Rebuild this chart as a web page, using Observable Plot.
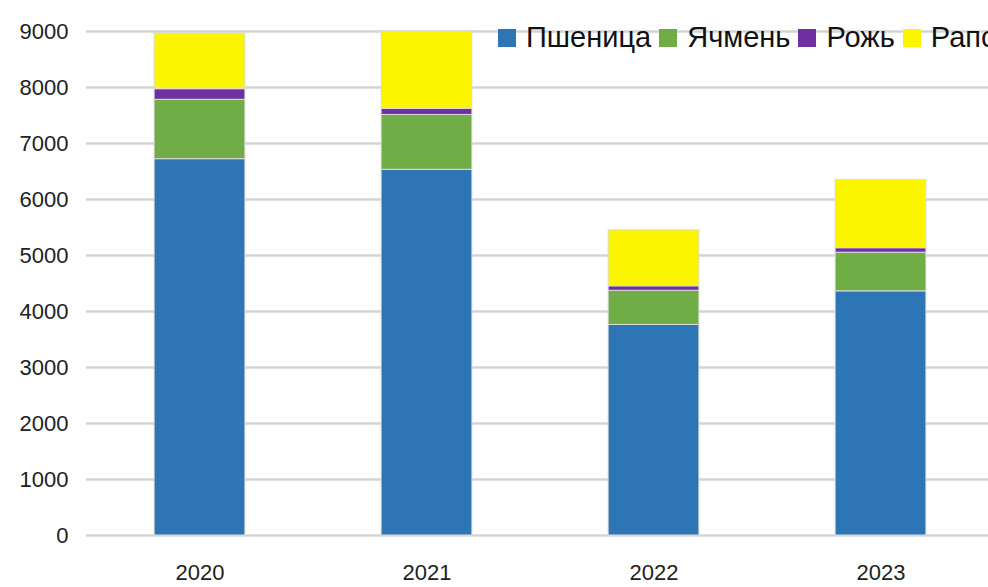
<!DOCTYPE html>
<html>
<head>
<meta charset="utf-8">
<script src="https://cdn.jsdelivr.net/npm/d3@7"></script>
<script src="https://cdn.jsdelivr.net/npm/@observablehq/plot@0.6"></script>
<style>
  html, body { margin: 0; padding: 0; background: #fff; overflow: hidden; width: 988px; height: 587px; }
  #wrap { position: relative; width: 988px; height: 587px; overflow: hidden; }
  #chart svg { max-width: none !important; }
  #legend { position: absolute; left: 498px; top: 21px; white-space: nowrap; font-family: "Liberation Sans", Arial, sans-serif; font-size: 29px; color: #111; display: flex; align-items: center; }
  #legend .item { display: inline-flex; align-items: center; margin-right: 8px; }
  #legend .sw { display: inline-block; width: 18px; height: 18px; margin-right: 10px; }
</style>
</head>
<body>
<div id="wrap">
  <div id="chart"></div>
  <div id="legend"></div>
</div>
<script>
const years = ["2020", "2021", "2022", "2023"];
const seriesNames = ["Пшеница", "Ячмень", "Рожь", "Рапс"];
const seriesColors = ["#2e75b6", "#70ad47", "#7030a0", "#fbf500"];
const wheat = [6720, 6530, 3760, 4360];
const barley = [1060, 980, 610, 690];
const rye = [190, 110, 80, 80];
const rapeseed = [1000, 1390, 1000, 1220];
const yTicks = [0, 1000, 2000, 3000, 4000, 5000, 6000, 7000, 8000, 9000];

const seriesValues = [wheat, barley, rye, rapeseed];
const data = [];
seriesNames.forEach((s, si) => {
  years.forEach((y, yi) => data.push({year: y, series: s, value: seriesValues[si][yi]}));
});

const chart = Plot.plot({
  width: 994,
  height: 587,
  marginLeft: 86,
  marginRight: 0,
  marginTop: 31,
  marginBottom: 52,
  style: {fontFamily: "'Liberation Sans', Arial, sans-serif", fontSize: "22px", color: "#222", background: "#fff"},
  x: {domain: years, paddingInner: 0.6, paddingOuter: 0.3, round: false, label: null, tickSize: 0, tickPadding: 29},
  y: {domain: [0, 9000], ticks: yTicks, tickFormat: d => String(d), label: null, tickSize: 0, tickPadding: 18},
  color: {domain: seriesNames, range: seriesColors},
  marks: [
    Plot.ruleY(yTicks, {stroke: "#d4d4d4", strokeWidth: 2.5}),
    Plot.barY(data, {x: "year", y: "value", fill: "series", order: seriesNames, stroke: "#dcdcdc", strokeWidth: 1}),
  ]
});
document.getElementById("chart").appendChild(chart);

const legend = document.getElementById("legend");
seriesNames.forEach((s, i) => {
  const item = document.createElement("span");
  item.className = "item";
  const sw = document.createElement("span");
  sw.className = "sw";
  sw.style.background = seriesColors[i];
  item.appendChild(sw);
  item.appendChild(document.createTextNode(s));
  legend.appendChild(item);
});
</script>
</body>
</html>
